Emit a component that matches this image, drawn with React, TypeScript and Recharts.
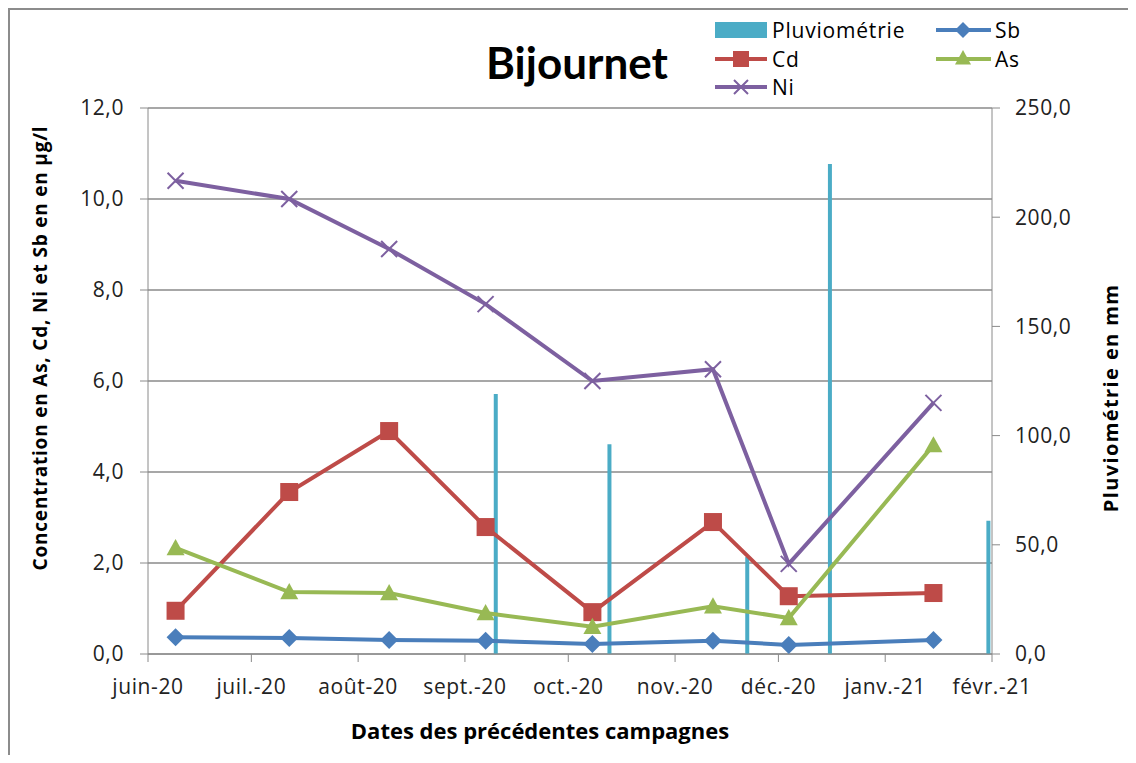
import React from "react";
import {
  ComposedChart,
  Bar,
  Line,
  XAxis,
  YAxis,
  CartesianGrid
} from "recharts";

// campaign dates and concentrations (µg/l)
const campaignDates = [
  "2020-06-09",
  "2020-07-12",
  "2020-08-10",
  "2020-09-07",
  "2020-10-08",
  "2020-11-12",
  "2020-12-04",
  "2021-01-15"
];
const sbValues = [0.37, 0.35, 0.31, 0.29, 0.22, 0.29, 0.2, 0.31];
const cdValues = [0.95, 3.56, 4.9, 2.79, 0.92, 2.9, 1.27, 1.34];
const asValues = [2.33, 1.36, 1.34, 0.9, 0.6, 1.05, 0.79, 4.59];
const niValues = [10.4, 10.0, 8.9, 7.69, 6.0, 6.26, 1.98, 5.52];

// rainfall (mm)
const rainDates = ["2020-09-10", "2020-10-13", "2020-11-22", "2020-12-16", "2021-01-31"];
const rainValues = [119, 96, 44.4, 224.4, 61];

const monthTicks = [
  "2020-06-01",
  "2020-07-01",
  "2020-08-01",
  "2020-09-01",
  "2020-10-01",
  "2020-11-01",
  "2020-12-01",
  "2021-01-01",
  "2021-02-01"
];
const monthLabels = [
  "juin-20",
  "juil.-20",
  "août-20",
  "sept.-20",
  "oct.-20",
  "nov.-20",
  "déc.-20",
  "janv.-21",
  "févr.-21"
];
const leftTicks = [0, 2, 4, 6, 8, 10, 12];
const rightTicks = [0, 50, 100, 150, 200, 250];

const origin = Date.parse(monthTicks[0]);
const toDay = (d: string) => (Date.parse(d) - origin) / 86400000;
const tickDays = monthTicks.map(toDay);

const rows: any[] = [
  ...campaignDates.map((d, i) => ({
    day: toDay(d),
    Sb: sbValues[i],
    Cd: cdValues[i],
    As: asValues[i],
    Ni: niValues[i]
  })),
  ...rainDates.map((d, i) => ({ day: toDay(d), pluvio: rainValues[i] }))
].sort((a, b) => a.day - b.day);

const BLUE = "#4A7EBB";
const RED = "#BE4B48";
const GREEN = "#98B954";
const PURPLE = "#7D60A0";
const CYAN = "#4BACC6";
const GRID = "#8a8a8a";
const FONT = "'Open Sans', sans-serif";

const fmt = (v: number) => v.toFixed(1).replace(".", ",");

const Diamond = ({ cx, cy, s = 9 }: any) => (
  <path d={`M${cx},${cy - s} L${cx + s},${cy} L${cx},${cy + s} L${cx - s},${cy} Z`} fill={BLUE} />
);
const Square = ({ cx, cy, s = 9 }: any) => (
  <rect x={cx - s} y={cy - s} width={2 * s} height={2 * s} fill={RED} />
);
const Triangle = ({ cx, cy, s = 9 }: any) => (
  <path d={`M${cx},${cy - s} L${cx + s},${cy + s * 0.8} L${cx - s},${cy + s * 0.8} Z`} fill={GREEN} />
);
const Cross = ({ cx, cy, s = 8 }: any) => (
  <path
    d={`M${cx - s},${cy - s} L${cx + s},${cy + s} M${cx - s},${cy + s} L${cx + s},${cy - s}`}
    stroke={PURPLE}
    strokeWidth={2}
  />
);

const dotOf = (Shape: any) => (p: any) => {
  if (p.cx == null || p.cy == null || p.value == null) return <g key={p.key} />;
  return <Shape key={p.key} cx={p.cx} cy={p.cy} />;
};

function LegendBox() {
  const txt = { fontSize: 21, letterSpacing: 0.8, fill: "#000", fontFamily: FONT } as any;
  return (
    <svg width={1120} height={100} style={{ position: "absolute", left: 0, top: 0 }}>
      <rect x={707} y={14} width={52} height={16} fill={CYAN} />
      <text x={764} y={30} {...txt}>Pluviométrie</text>

      <line x1={928} x2={983} y1={22} y2={22} stroke={BLUE} strokeWidth={4} />
      <Diamond cx={955} cy={22} s={8} />
      <text x={987} y={30} {...txt}>Sb</text>

      <line x1={707} x2={759} y1={51} y2={51} stroke={RED} strokeWidth={4} />
      <Square cx={733} cy={51} s={8} />
      <text x={764} y={59} {...txt}>Cd</text>

      <line x1={928} x2={983} y1={51} y2={51} stroke={GREEN} strokeWidth={4} />
      <Triangle cx={955} cy={50} s={8} />
      <text x={987} y={59} {...txt}>As</text>

      <line x1={707} x2={759} y1={79} y2={79} stroke={PURPLE} strokeWidth={4} />
      <Cross cx={733} cy={79} s={7} />
      <text x={764} y={87} {...txt}>Ni</text>
    </svg>
  );
}

export default function App() {
  const tickStyle = { fill: "#222", fontSize: 21, letterSpacing: 0.6 };
  return (
    <div style={{ position: "relative", width: 1120, height: 747, fontFamily: FONT }}>
      <div
        style={{
          position: "absolute",
          left: 0,
          top: 0,
          width: 1120,
          height: 747,
          borderLeft: "2px solid #8c8c8c",
          borderTop: "2px solid #8c8c8c",
          boxSizing: "border-box"
        }}
      />
      <LegendBox />
      <div
        style={{
          position: "absolute",
          left: 419,
          width: 300,
          top: 26,
          textAlign: "center",
          fontSize: 44,
          fontWeight: 700,
          fontFamily: "Lato, sans-serif",
          lineHeight: "56px"
        }}
      >
        Bijournet
      </div>
      <div
        style={{
          position: "absolute",
          left: 32,
          top: 340,
          transform: "translate(-50%, -50%) rotate(-90deg)",
          whiteSpace: "nowrap",
          fontSize: 19,
          letterSpacing: 0.8,
          fontWeight: 700
        }}
      >
        Concentration en As, Cd, Ni et Sb en en µg/l
      </div>
      <div
        style={{
          position: "absolute",
          left: 1102,
          top: 390,
          transform: "translate(-50%, -50%) rotate(-90deg)",
          whiteSpace: "nowrap",
          fontSize: 20,
          letterSpacing: 1.4,
          fontWeight: 700
        }}
      >
        Pluviométrie en mm
      </div>
      <div
        style={{
          position: "absolute",
          left: 532,
          top: 722,
          transform: "translate(-50%, -50%)",
          whiteSpace: "nowrap",
          fontSize: 22,
          fontWeight: 700
        }}
      >
        Dates des précédentes campagnes
      </div>
      <div style={{ position: "absolute", left: 0, top: 0 }}>
        <ComposedChart
          width={1120}
          height={747}
          data={rows}
          margin={{ top: 100, right: 0, bottom: 61, left: 0 }}
        >
          <CartesianGrid yAxisId="left" vertical={false} stroke={GRID} strokeWidth={1.5} />
          <XAxis
            dataKey="day"
            type="number"
            domain={[tickDays[0], tickDays[tickDays.length - 1]]}
            ticks={tickDays}
            tickFormatter={(v: number) => monthLabels[tickDays.indexOf(v)] ?? ""}
            height={40}
            stroke={GRID}
            tickSize={8}
            tickMargin={17}
            tick={tickStyle}
            interval={0}
            allowDataOverflow
          />
          <YAxis
            yAxisId="left"
            orientation="left"
            width={140}
            domain={[0, 12]}
            ticks={leftTicks}
            tickFormatter={fmt}
            stroke={GRID}
            tickSize={8}
            tickMargin={16}
            tick={tickStyle}
          />
          <YAxis
            yAxisId="right"
            orientation="right"
            width={136}
            domain={[0, 250]}
            ticks={rightTicks}
            tickFormatter={fmt}
            stroke={GRID}
            tickSize={8}
            tickMargin={15}
            tick={{ ...tickStyle, textAnchor: "start" }}
          />
          <Bar yAxisId="right" dataKey="pluvio" name="Pluviométrie" fill={CYAN} barSize={4} isAnimationActive={false} />
          <Line yAxisId="left" dataKey="Sb" stroke={BLUE} strokeWidth={4} dot={dotOf(Diamond)} connectNulls isAnimationActive={false} />
          <Line yAxisId="left" dataKey="Cd" stroke={RED} strokeWidth={4} dot={dotOf(Square)} connectNulls isAnimationActive={false} />
          <Line yAxisId="left" dataKey="As" stroke={GREEN} strokeWidth={4} dot={dotOf(Triangle)} connectNulls isAnimationActive={false} />
          <Line yAxisId="left" dataKey="Ni" stroke={PURPLE} strokeWidth={4} dot={dotOf(Cross)} connectNulls isAnimationActive={false} />
        </ComposedChart>
      </div>
    </div>
  );
}
